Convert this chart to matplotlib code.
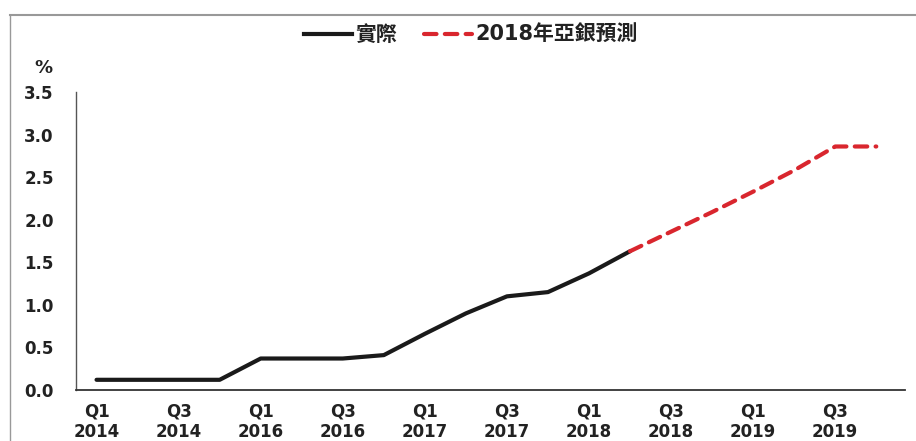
import numpy as np
import matplotlib.pyplot as plt
from matplotlib.lines import Line2D

plt.rcParams['font.family'] = ['DejaVu Sans', 'Noto Sans CJK TC']

# quarterly index 0..19
tick_labels = ['Q1\n2014', 'Q3\n2014', 'Q1\n2016', 'Q3\n2016', 'Q1\n2017',
               'Q3\n2017', 'Q1\n2018', 'Q3\n2018', 'Q1\n2019', 'Q3\n2019']
actual = [0.12, 0.12, 0.12, 0.12, 0.37, 0.37, 0.37, 0.41, 0.66, 0.90,
          1.10, 1.15, 1.37, 1.63]
forecast = [1.63, 1.86, 2.09, 2.33, 2.58, 2.86, 2.86]
forecast_start = 13

x_actual = np.arange(len(actual))
x_forecast = np.arange(forecast_start, forecast_start + len(forecast))

fig = plt.figure(figsize=(9.16, 4.41), dpi=100)
ax = fig.add_axes([0.083, 0.1156, 0.905, 0.6758])

ax.plot(x_actual, actual, color='#1a1a1a', linewidth=3.0,
        solid_joinstyle='round', solid_capstyle='round', zorder=3)
ax.plot(x_forecast, forecast, color='#d9262e', linewidth=3.0,
        linestyle=(0, (3, 2)), dash_capstyle='round', zorder=3)

ax.set_xlim(-0.5, 19.7)
ax.set_ylim(0, 3.5)
ax.set_yticks(np.arange(0, 3.51, 0.5))
ax.set_yticklabels(['%.1f' % v for v in np.arange(0, 3.51, 0.5)])
ax.set_xticks(np.arange(0, 20, 2))
ax.set_xticklabels(tick_labels)
ax.tick_params(length=0, labelsize=12, colors='#222222')
ax.tick_params(axis='x', pad=9)
ax.tick_params(axis='y', pad=16)
for lab in ax.get_xticklabels() + ax.get_yticklabels():
    lab.set_fontweight('bold')
    lab.set_linespacing(1.15)

ax.spines['top'].set_visible(False)
ax.spines['right'].set_visible(False)
ax.spines['left'].set_color('#555555')
ax.spines['left'].set_linewidth(1.0)
ax.spines['bottom'].set_color('#333333')
ax.spines['bottom'].set_linewidth(1.3)

fig.text(0.038, 0.835, '%', fontsize=13, fontweight='bold', color='#222222')

handles = [Line2D([], [], color='#1a1a1a', linewidth=3.0),
           Line2D([], [], color='#d9262e', linewidth=3.0, linestyle=(0, (3, 2)),
                  dash_capstyle='round')]
leg = fig.legend(handles, ['實際', '2018年亞銀預測'], loc='center',
                 bbox_to_anchor=(0.514, 0.92), ncol=2, frameon=False,
                 handlelength=2.3, handletextpad=0.15, columnspacing=1.3,
                 prop={'family': ['DejaVu Sans', 'Noto Sans CJK TC'],
                       'size': 15, 'weight': 'bold'})
for t in leg.get_texts():
    t.set_color('#222222')

# outer frame
fig.add_artist(Line2D([0.011, 1.0], [0.966, 0.966], color='#999999',
                      linewidth=1.5, transform=fig.transFigure))
fig.add_artist(Line2D([0.011, 0.011], [0.0, 0.966], color='#999999',
                      linewidth=1.0, transform=fig.transFigure))

fig.savefig('out.png', dpi=100, facecolor='white')
